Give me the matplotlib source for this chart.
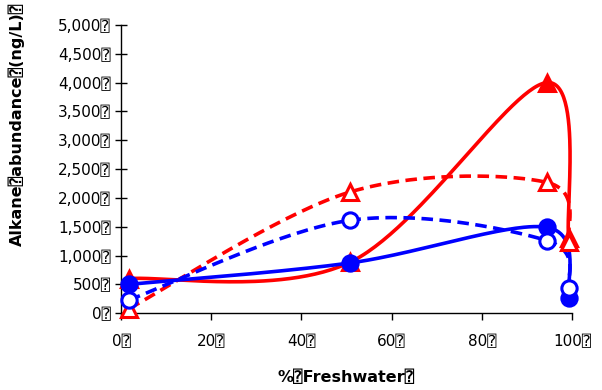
import numpy as np
import matplotlib
matplotlib.use("Agg")
import matplotlib.pyplot as plt

plt.rcParams['font.family'] = ['DejaVu Sans', 'DejaVu Sans Mono']

BOX = "\u2370"

# % freshwater in the mixture
freshwater = [1.8, 50.7, 94.4, 99.3]

# alkane abundance (ng/L)
red_filled = [600, 880, 4000, 1300]
red_open = [80, 2100, 2270, 1240]
blue_filled = [500, 870, 1490, 260]
blue_open = [230, 1610, 1260, 430]

y_ticks = [0, 500, 1000, 1500, 2000, 2500, 3000, 3500, 4000, 4500, 5000]
x_ticks = [0, 20, 40, 60, 80, 100]

fig = plt.figure(figsize=(6.02, 3.90), dpi=100)
ax = fig.add_axes([0.201, 0.197, 0.749, 0.739])
ax.set_xlim(0, 100)
ax.set_ylim(0, 5000)


def smooth_curve(ax, xs, ys, n=60):
    """Cardinal-spline smoothing computed in screen space, returned in data space."""
    pts = ax.transData.transform(np.column_stack([xs, ys]))
    m = len(pts)
    out = [pts[0]]
    for i in range(m - 1):
        p0 = pts[max(i - 1, 0)]
        p1 = pts[i]
        p2 = pts[i + 1]
        p3 = pts[min(i + 2, m - 1)]
        c1 = p1 + (p2 - p0) / 6.0
        c2 = p2 - (p3 - p1) / 6.0
        t = np.linspace(0, 1, n)[1:, None]
        seg = ((1 - t) ** 3) * p1 + 3 * ((1 - t) ** 2) * t * c1 \
            + 3 * (1 - t) * t ** 2 * c2 + t ** 3 * p2
        out.extend(seg)
    out = np.array(out)
    data = ax.transData.inverted().transform(out)
    return data[:, 0], data[:, 1]


lw = 2.6
series = [
    (red_filled, '#FF0000', '-', '^', '#FF0000'),
    (red_open, '#FF0000', '--', '^', 'white'),
    (blue_filled, '#0000FF', '-', 'o', '#0000FF'),
    (blue_open, '#0000FF', '--', 'o', 'white'),
]

for vals, color, ls, marker, face in series:
    sx, sy = smooth_curve(ax, freshwater, vals)
    line, = ax.plot(sx, sy, color=color, lw=lw, ls=ls, zorder=2, clip_on=False)
    if ls == '--':
        line.set_dashes((3.2, 1.8))
    ax.plot(freshwater, vals, ls='none', marker=marker, ms=11,
            mfc=face, mec=color, mew=2.2, zorder=3, clip_on=False)

for side in ('top', 'right'):
    ax.spines[side].set_visible(False)
for side in ('left', 'bottom'):
    ax.spines[side].set_linewidth(1.0)
    ax.spines[side].set_color('black')

ax.set_yticks(y_ticks)
ax.set_yticklabels([f"{v:,}{BOX}" for v in y_ticks], fontsize=11)
ax.set_xticks(x_ticks)
ax.set_xticklabels([f"{v}{BOX}" for v in x_ticks], fontsize=11)
ax.tick_params(axis='y', direction='inout', length=9, width=1.0, colors='black', pad=3)
ax.tick_params(axis='x', direction='out', length=5, width=1.0, colors='black', pad=10)

ax.set_ylabel(f"Alkane{BOX}abundance{BOX}(ng/L){BOX}", fontsize=11.5,
              fontweight='bold')
ax.yaxis.set_label_coords(-0.213, 0.655)
ax.set_xlabel(f"%{BOX}Freshwater{BOX}", fontsize=11.5, fontweight='bold', labelpad=15)

fig.savefig("out.png", dpi=100)
